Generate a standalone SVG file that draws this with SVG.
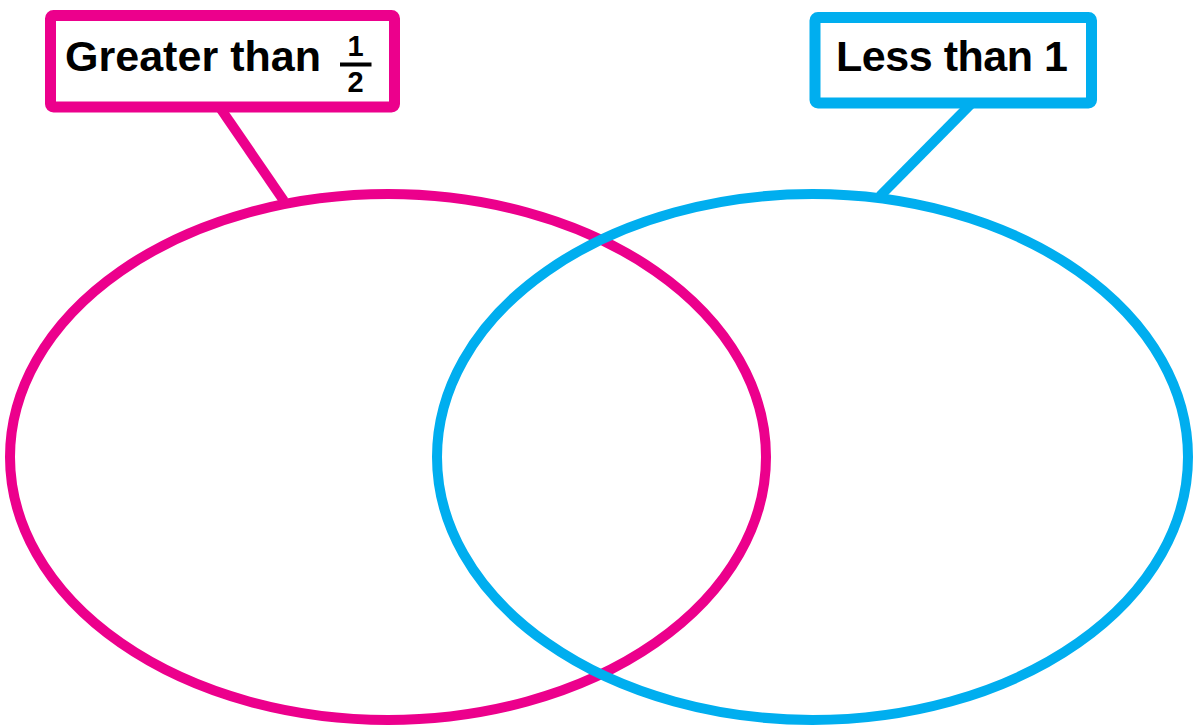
<svg xmlns="http://www.w3.org/2000/svg" width="1193" height="726" viewBox="0 0 1193 726">
<style>
.pink{stroke:#EC008C}
.blue{stroke:#00AEEF}
.set{fill:none;stroke-width:10}
.box{fill:#fff;stroke-width:11}
.conn{stroke-width:10;fill:none}
.lbl{font-family:"Liberation Sans",Arial,sans-serif;font-weight:bold;fill:#000}
</style>
<rect width="1193" height="726" fill="#fff"/>
<g id="connectors">
<line class="conn pink" x1="219.5" y1="107" x2="284" y2="201"/>
<line class="conn blue" x1="971" y1="104" x2="880" y2="196"/>
</g>
<g id="set-greater-half">
<ellipse class="set pink" cx="388" cy="457" rx="378" ry="263"/>
</g>
<g id="set-less-one">
<ellipse class="set blue" cx="812.5" cy="457" rx="375.5" ry="263"/>
</g>
<g id="label-greater-half">
<rect class="box pink" x="50.5" y="15.5" width="344" height="91.5" rx="3"/>
<text class="lbl" x="65" y="71" font-size="43" textLength="256" lengthAdjust="spacing">Greater than</text>
<text class="lbl" x="355.5" y="55.5" font-size="29" text-anchor="middle">1</text>
<rect x="340" y="62.5" width="31.5" height="4" fill="#000"/>
<text class="lbl" x="355.5" y="92" font-size="29" text-anchor="middle">2</text>
</g>
<g id="label-less-one">
<rect class="box blue" x="815" y="17.5" width="276.5" height="85.5" rx="3"/>
<text class="lbl" x="836" y="71" font-size="43" textLength="232" lengthAdjust="spacing">Less than 1</text>
</g>
</svg>
